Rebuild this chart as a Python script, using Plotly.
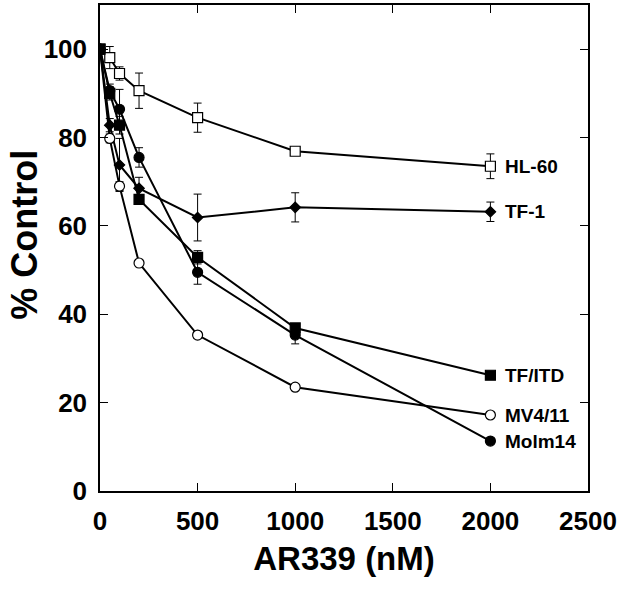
import plotly.graph_objects as go

# doses (nM)
dose = [0, 50, 100, 200, 500, 1000, 2000]

# % control per cell line, with SD
hl60 = [100, 98.1, 94.5, 90.6, 84.5, 76.9, 73.5]
hl60_err = [0.8, 2.5, 1.5, 4.0, 3.3, 0.8, 2.8]

tf1 = [100, 82.8, 73.8, 68.5, 61.9, 64.2, 63.2]
tf1_err = [0.5, 1.5, 6.0, 2.5, 5.3, 3.3, 2.2]

tfitd = [100, 90.0, 82.8, 66.0, 52.9, 36.9, 26.2]
tfitd_err = [0.5, 1.5, 2.0, 1.0, 1.5, 1.0, 0.8]

mv411 = [100, 79.8, 69.0, 51.6, 35.3, 23.5, 17.2]
mv411_err = [0.5, 1.0, 1.0, 0.8, 0.8, 0.6, 0.6]

molm14 = [100, 90.6, 86.4, 75.5, 49.5, 35.3, 11.3]
molm14_err = [0.5, 1.5, 4.5, 2.2, 2.7, 2.0, 0.6]

names = ["HL-60", "TF-1", "TF/ITD", "MV4/11", "Molm14"]
series = [hl60, tf1, tfitd, mv411, molm14]
errors = [hl60_err, tf1_err, tfitd_err, mv411_err, molm14_err]
symbols = ["square", "diamond", "square", "circle", "circle"]
fills = ["white", "black", "black", "white", "black"]
sizes = [10, 8, 10, 10, 10]
label_y = [73.5, 63.2, 26.2, 17.2, 11.3]

FONT = "Arial, Liberation Sans, sans-serif"

fig = go.Figure()
for name, y, err, sym, fill, sz in zip(names, series, errors, symbols, fills, sizes):
    fig.add_trace(go.Scatter(
        x=dose, y=y, name=name,
        mode="lines+markers",
        line=dict(color="black", width=2),
        marker=dict(symbol=sym, size=sz, color=fill,
                    line=dict(color="black", width=1.2)),
        error_y=dict(type="data", array=err, visible=True, color="black",
                     thickness=1, width=4),
    ))

for name, yl in zip(names, label_y):
    fig.add_annotation(x=2065, y=yl, text="<b>%s</b>" % name, showarrow=False,
                       xanchor="left", yanchor="middle",
                       font=dict(family=FONT, size=19, color="black"))

# y axis title, placed a bit above the middle like the original
fig.add_annotation(xref="paper", x=0, y=58, text="<b>% Control</b>", showarrow=False,
                   textangle=-90, xanchor="center", yanchor="middle", xshift=-75,
                   font=dict(family=FONT, size=36, color="black"))

fig.update_xaxes(
    range=[0, 2500], tickvals=[0, 500, 1000, 1500, 2000, 2500],
    ticks="inside", ticklen=8, tickcolor="black", mirror="ticks",
    showline=True, linecolor="black", linewidth=1.5, showgrid=False, zeroline=False,
    tickfont=dict(family=FONT, size=26, color="black", weight="bold"),
    ticklabelstandoff=6, automargin=False,
    title=dict(text="<b>AR339 (nM)</b>", font=dict(family=FONT, size=33, color="black"),
               standoff=12),
)
fig.update_yaxes(
    range=[0, 110], tickvals=[0, 20, 40, 60, 80, 100],
    ticks="inside", ticklen=8, tickcolor="black", mirror="ticks",
    showline=True, linecolor="black", linewidth=1.5, showgrid=False, zeroline=False,
    tickfont=dict(family=FONT, size=26, color="black", weight="bold"),
    ticklabelstandoff=6, automargin=False,
)
fig.update_layout(
    width=624, height=601,
    margin=dict(l=100, r=36, t=5, b=110),
    plot_bgcolor="white", paper_bgcolor="white",
    showlegend=False,
)

# drop the default 8px body margin so the figure sits at the window corner
fig.write_html("out.html", config={"displayModeBar": False},
               post_script="document.body.style.margin='0';")
